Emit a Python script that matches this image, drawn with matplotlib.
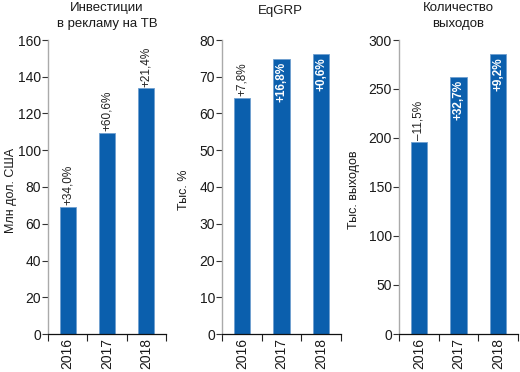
import matplotlib
matplotlib.use("Agg")
import matplotlib.pyplot as plt

plt.rcParams['font.family'] = ['Liberation Sans Narrow', 'Liberation Sans', 'DejaVu Sans']

years = ["2016", "2017", "2018"]
invest = [69.1, 109.6, 133.7]
invest_chg = ["+34,0%", "+60,6%", "+21,4%"]
eqgrp = [64.2, 74.9, 76.1]
eqgrp_chg = ["+7,8%", "+16,8%", "+0,6%"]
spots = [196.0, 262.0, 285.4]
spots_chg = ["\u201311,5%", "+32,7%", "+9,2%"]

titles = ["Инвестиции\nв рекламу на ТВ", "EqGRP", "Количество\nвыходов"]
ylabels = ["Млн дол. США", "Тыс. %", "Тыс. выходов"]
ylims = [160, 80, 300]
ysteps = [20, 10, 50]
# whether label sits inside bar (white) per bar
inside = [[False, False, False], [False, True, True], [False, True, True]]

bar_color = "#0b5fad"
W, H = 520, 372
fig = plt.figure(figsize=(W / 100, H / 100), dpi=100)

panels = [(48, 166), (222, 341), (399, 518)]
title_x = [107, 280, 458]
title_y = [2, 5, 2]
ylabel_x = [11, 184, 354]
series = [invest, eqgrp, spots]
changes = [invest_chg, eqgrp_chg, spots_chg]

top_px, bot_px = 40, 334
for i in range(3):
    l, r = panels[i]
    ax = fig.add_axes([l / W, 1 - bot_px / H, (r - l) / W, (bot_px - top_px) / H])
    x = list(range(len(years)))
    ax.bar(x, series[i], width=0.41, color=bar_color, edgecolor="#6f9fd0", linewidth=0.6)
    ax.set_xlim(-0.5, 2.5)
    ax.set_ylim(0, ylims[i])
    ax.set_yticks(list(range(0, ylims[i] + 1, ysteps[i])))
    ax.tick_params(axis='y', labelsize=10, length=4, width=0.8, color="#333333",
                   labelcolor="#1a1a1a", pad=1)
    ax.set_xticks([-0.5, 0.5, 1.5, 2.5])
    ax.set_xticklabels([])
    ax.set_xticks(x, minor=True)
    ax.set_xticklabels(years, minor=True, rotation=90, fontsize=10, color="#1a1a1a")
    ax.tick_params(axis='x', which='major', length=5, width=0.8, color="#222222")
    ax.tick_params(axis='x', which='minor', length=0, pad=3)
    for s in ["top", "right"]:
        ax.spines[s].set_visible(False)
    ax.spines["left"].set_color("#aaaaaa")
    ax.spines["left"].set_linewidth(1.0)
    ax.spines["bottom"].set_color("#111111")
    ax.spines["bottom"].set_linewidth(0.9)
    pad = ylims[i] * 0.006
    for j, v in enumerate(series[i]):
        if inside[i][j]:
            ax.text(j, v - pad * 1.5, changes[i][j], rotation=90, ha='center', va='top',
                    color="white", fontsize=8.5, fontweight='bold')
        else:
            ax.text(j, v + pad, changes[i][j], rotation=90, ha='center', va='bottom',
                    color="#222222", fontsize=8.5)
    fig.text(ylabel_x[i] / W, 1 - 190 / H, ylabels[i], rotation=90, ha='center', va='center',
             fontsize=9, color="#1a1a1a")
    fig.text(title_x[i] / W, 1 - title_y[i] / H, titles[i], ha='center', va='top', fontsize=9.5,
             color="#1a1a1a", linespacing=1.5)

fig.savefig("out.png", dpi=100)
